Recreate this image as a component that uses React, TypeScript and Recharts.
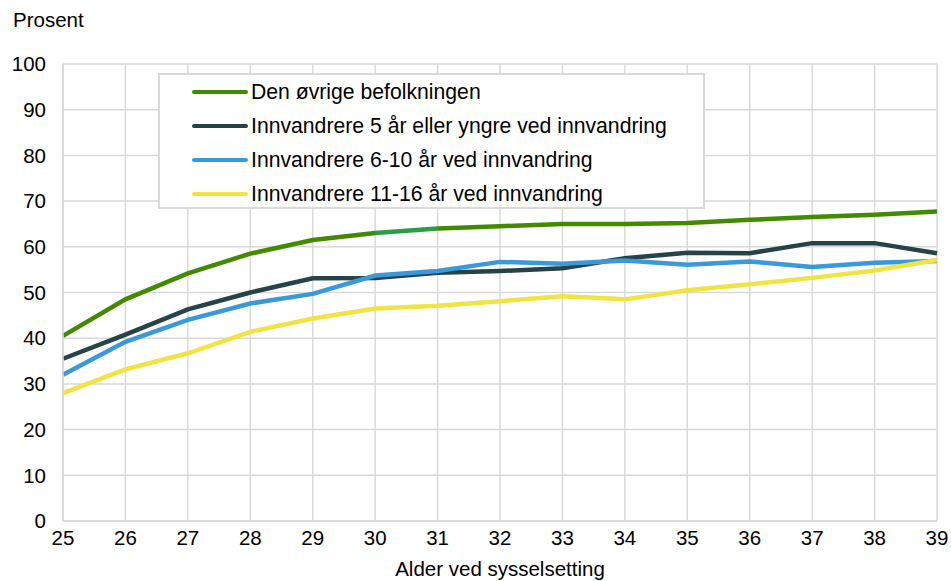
import * as React from "react";
import { LineChart, Line, XAxis, YAxis, CartesianGrid } from "recharts";

const ages = [25, 26, 27, 28, 29, 30, 31, 32, 33, 34, 35, 36, 37, 38, 39];
const ovrige = [40.5, 48.5, 54.2, 58.5, 61.5, 63, 64, 64.5, 65, 65, 65.2, 65.9, 66.5, 67, 67.7];
const innv5 = [35.5, 40.8, 46.3, 50, 53.1, 53.2, 54.3, 54.7, 55.3, 57.5, 58.7, 58.6, 60.8, 60.8, 58.6];
const innv6_10 = [32, 39.2, 44, 47.6, 49.7, 53.7, 54.7, 56.7, 56.3, 57, 56.1, 56.8, 55.6, 56.5, 56.9];
const innv11_16 = [28, 33.2, 36.7, 41.4, 44.3, 46.5, 47.1, 48.1, 49.2, 48.5, 50.5, 51.8, 53.2, 54.8, 57.1];
const yTicks = [0, 10, 20, 30, 40, 50, 60, 70, 80, 90, 100];

const series = [
  { key: "ovrige", name: "Den øvrige befolkningen", color: "#428a00", values: ovrige },
  { key: "innv5", name: "Innvandrere 5 år eller yngre ved innvandring", color: "#264348", values: innv5 },
  { key: "innv6_10", name: "Innvandrere 6-10 år ved innvandring", color: "#3a9ad9", values: innv6_10 },
  { key: "innv11_16", name: "Innvandrere 11-16 år ved innvandring", color: "#f0e442", values: innv11_16 },
];

const data = ages.map((age, i) => {
  const row: Record<string, number> = { age };
  series.forEach((s) => (row[s.key] = s.values[i]));
  return row;
});

const font = "'Liberation Sans', Arial, sans-serif";
const tickStyle = { fill: "#000", fontSize: 20.5, fontFamily: font };

export default function App() {
  // green line gets a lighter segment between 30 and 31, like in the source
  const a = (30 - 25) / 14;
  const b = (31 - 25) / 14;
  return (
    <div style={{ position: "absolute", left: 0, top: 0, width: 951, height: 581, background: "#fff", fontFamily: font }}>
      <div style={{ position: "absolute", left: 13, top: 8, fontSize: 20.5 }}>Prosent</div>
      <LineChart width={951} height={581} data={data} margin={{ top: 64, right: 14, left: 13, bottom: 10 }}>
        <defs>
          <linearGradient id="greenSeg" x1="0" y1="0" x2="1" y2="0">
            <stop offset={a} stopColor="#428a00" />
            <stop offset={a} stopColor="#2a9d4a" />
            <stop offset={b} stopColor="#2a9d4a" />
            <stop offset={b} stopColor="#428a00" />
          </linearGradient>
        </defs>
        <CartesianGrid stroke="#d9d9d9" strokeWidth={1.5} />
        <XAxis
          dataKey="age"
          type="number"
          domain={[25, 39]}
          ticks={ages}
          tick={tickStyle}
          tickLine={false}
          axisLine={{ stroke: "#d9d9d9", strokeWidth: 1.5 }}
          tickSize={0}
          tickMargin={9}
          height={50}
        />
        <YAxis
          domain={[0, 100]}
          ticks={yTicks}
          tick={tickStyle}
          tickLine={false}
          axisLine={{ stroke: "#d9d9d9", strokeWidth: 1.5 }}
          tickSize={0}
          tickMargin={17}
          width={50}
          interval={0}
        />
        {series.map((s) => (
          <Line
            key={s.key}
            dataKey={s.key}
            name={s.name}
            stroke={s.key === "ovrige" ? "url(#greenSeg)" : s.color}
            strokeWidth={4.5}
            dot={false}
            activeDot={false}
            type="linear"
            isAnimationActive={false}
          />
        ))}
      </LineChart>
      <div
        style={{
          position: "absolute",
          left: 158,
          top: 73,
          width: 547,
          height: 136,
          background: "#fff",
          border: "2px solid #d9d9d9",
          boxSizing: "border-box",
        }}
      >
        {series.map((s, i) => (
          <div
            key={s.key}
            style={{ position: "absolute", left: 32, top: 3 + i * 34, height: 28, display: "flex", alignItems: "center", fontSize: 21.2, whiteSpace: "nowrap" }}
          >
            <span style={{ display: "inline-block", width: 56, height: 4, borderRadius: 2, background: s.color, marginRight: 3 }} />
            {s.name}
          </div>
        ))}
      </div>
      <div style={{ position: "absolute", left: 63, width: 874, top: 557, textAlign: "center", fontSize: 20.5 }}>
        Alder ved sysselsetting
      </div>
    </div>
  );
}
